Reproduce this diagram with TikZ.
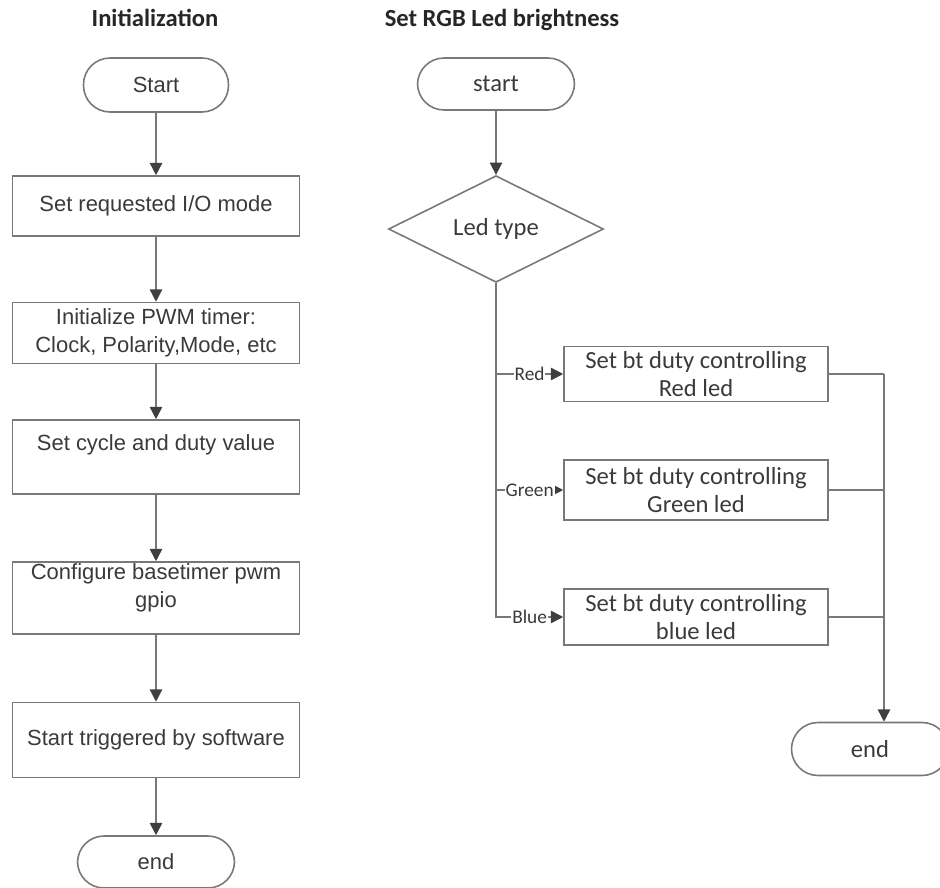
\documentclass[tikz,border=0pt]{standalone}
\usepackage{fontspec}
\setmainfont{Liberation Sans}
\newfontfamily\calibri{Carlito}
\usetikzlibrary{arrows.meta,shapes.geometric}

\definecolor{linegray}{HTML}{787878}
\definecolor{tipgray}{HTML}{3F3F3F}
\definecolor{textgray}{HTML}{3A3A3A}

\tikzset{
  flowline/.style={draw=linegray, line width=0.9pt},
  flowarrow/.style={flowline, -{Triangle[length=7pt,width=7pt,color=tipgray]}},
  proc/.style={draw=linegray, line width=0.9pt, rectangle, minimum width=5.74cm,
    align=center, text=textgray, font=\fontsize{12.5}{16}\selectfont, inner sep=0pt},
  term/.style={draw=linegray, line width=0.9pt, rectangle, rounded corners=0.53cm,
    minimum width=2.9cm, minimum height=1.08cm, text=textgray,
    font=\fontsize{12.5}{16}\selectfont},
  ledbox/.style={proc, minimum width=5.28cm, font=\calibri\fontsize{14}{16}\selectfont},
  lbl/.style={fill=white, inner sep=0.5pt, text=textgray,
    font=\calibri\fontsize{11}{13}\selectfont},
  title/.style={text=black!85, font=\calibri\bfseries\fontsize{14}{16}\selectfont}
}

\begin{document}
\begin{tikzpicture}[x=0.02cm, y=-0.02cm]
  \useasboundingbox (0,0) rectangle (940,888);

  \node[title] (inittitle) at (155,18) {Initialization};
  \node[term] (start) at (156,85) {Start};
  \node[proc, minimum height=1.2cm] (iomode) at (156,206) {Set requested I/O mode};
  \node[proc, minimum height=1.22cm] (pwminit) at (156,333) {Initialize PWM timer:\\Clock, Polarity,Mode, etc};
  \node[proc, minimum height=1.48cm] (duty) at (156,457) {Set cycle and duty value\\\mbox{}};
  \node[proc, minimum height=1.44cm] (gpio) at (156,598) {Configure basetimer pwm\\gpio\\[-2pt]\mbox{}};
  \node[proc, minimum height=1.5cm] (trigger) at (156,740) {Start triggered by software};
  \node[term, minimum width=3.14cm, minimum height=1.04cm] (end) at (156,862) {end};

  \draw[flowarrow] (start) -- (iomode);
  \draw[flowarrow] (iomode) -- (pwminit);
  \draw[flowarrow] (pwminit) -- (duty);
  \draw[flowarrow] (duty) -- (gpio);
  \draw[flowarrow] (gpio) -- (trigger);
  \draw[flowarrow] (trigger) -- (end);

  \node[title] (rgbtitle) at (502,20) {Set RGB Led brightness};
  \node[term, font=\calibri\fontsize{14}{16}\selectfont, minimum width=3.14cm, minimum height=1.04cm] (rstart) at (496,84) {start};
  \node[draw=linegray, line width=0.9pt, diamond, minimum width=4.3cm, minimum height=2.06cm,
    inner sep=0pt, text=textgray, font=\calibri\fontsize{14}{16}\selectfont] (ledtype) at (496,229) {Led type};
  \node[ledbox, minimum height=1.1cm] (red) at (696,374) {Set bt duty controlling\\Red led};
  \node[ledbox, minimum height=1.2cm] (green) at (696,490) {Set bt duty controlling\\Green led};
  \node[ledbox, minimum height=1.12cm] (blue) at (696,617) {Set bt duty controlling\\blue led};
  \node[term, font=\calibri\fontsize{14}{16}\selectfont, minimum width=3.14cm, minimum height=1.06cm] (rend) at (870,749) {end};

  \draw[flowarrow] (rstart) -- (ledtype);
  \draw[flowarrow] (ledtype.south) |- node[lbl, pos=0.75] {Blue} (blue.west);
  \draw[flowarrow] (ledtype.south |- red.west) -- node[lbl] {Red} (red.west);
  \draw[flowarrow] (ledtype.south |- green.west) -- node[lbl] {Green} (green.west);

  \coordinate (merge) at (884,374);
  \draw[flowline] (red.east) -- (merge);
  \draw[flowline] (green.east) -- (green.east -| merge);
  \draw[flowline] (blue.east) -- (blue.east -| merge);
  \draw[flowarrow] (merge) -- (merge |- rend.north);
\end{tikzpicture}
\end{document}
